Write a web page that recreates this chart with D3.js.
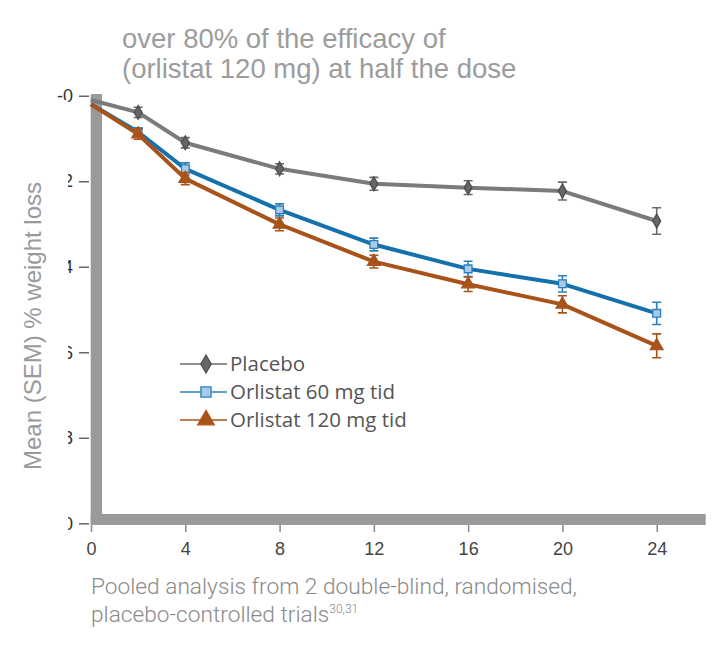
<!DOCTYPE html>
<html>
<head>
<meta charset="utf-8">
<script src="https://cdn.jsdelivr.net/npm/d3@7"></script>
<style>
  body { margin: 0; background: #fff; }
  svg { display: block; }
</style>
</head>
<body>
<div class="chart"></div>
<script>
// data (weeks vs mean % weight loss)
const weeks = [0, 2, 4, 8, 12, 16, 20, 24];
const placebo = [0.1, 0.39, 1.10, 1.71, 2.06, 2.15, 2.23, 2.93];
const placeboSem = [0, 0.12, 0.12, 0.12, 0.15, 0.16, 0.21, 0.31];
const orl60 = [0.2, 0.85, 1.71, 2.67, 3.48, 4.05, 4.40, 5.09];
const orl60Sem = [0, 0.10, 0.14, 0.14, 0.15, 0.18, 0.19, 0.26];
const orl120 = [0.2, 0.90, 1.94, 3.01, 3.88, 4.41, 4.88, 5.85];
const orl120Sem = [0, 0.12, 0.14, 0.15, 0.15, 0.17, 0.20, 0.28];

const xTicks = [0, 4, 8, 12, 16, 20, 24];
const yTicks = [0, 2, 4, 6, 8, 10];
const yTickLabels = ['-0', '2', '4', '6', '8', '10'];
const seriesNames = ['Placebo', 'Orlistat 60 mg tid', 'Orlistat 120 mg tid'];

const width = 715, height = 646;

const svg = d3.select('.chart').append('svg')
    .attr('width', width)
    .attr('height', height);

const x = d3.scaleLinear().domain([0, 24]).range([91, 656.7]);
const y = d3.scaleLinear().domain([0, 10]).range([95.7, 523.3]);

//title
const title = svg.append('text')
    .attr('font-family', 'Liberation Sans, Arial, sans-serif')
    .attr('font-size', 27.5)
    .attr('fill', '#9c9c9c');
title.append('tspan').attr('x', 122).attr('y', 48).text('over 80% of the efficacy of');
title.append('tspan').attr('x', 122).attr('y', 78).text('(orlistat 120 mg) at half the dose');

//thick grey frame
svg.append('rect').attr('x', 90.7).attr('y', 94).attr('width', 11.3).attr('height', 431).attr('fill', '#9a9a9a');
svg.append('rect').attr('x', 90.7).attr('y', 514).attr('width', 615).attr('height', 11).attr('fill', '#9a9a9a');

//x axis
const xAxis = d3.axisBottom(x)
    .tickValues(xTicks)
    .tickSize(7)
    .tickPadding(10)
    .tickSizeOuter(0);

const xAxisDraw = svg.append('g')
    .attr('transform', 'translate(0, 525)')
    .call(xAxis);
xAxisDraw.select('.domain').remove();
xAxisDraw.selectAll('line').attr('stroke', '#888').attr('stroke-width', 1.5);
xAxisDraw.selectAll('text')
    .attr('font-family', 'Liberation Sans, Arial, sans-serif')
    .attr('font-size', 18)
    .attr('fill', '#444');

//y axis, labels cut at the left edge like the original
svg.append('clipPath').attr('id', 'yclip')
    .call(c => {
        c.append('rect').attr('x', 0).attr('y', 0).attr('width', 200).attr('height', 100);
        c.append('rect').attr('x', 68).attr('y', 100).attr('width', 200).attr('height', 500);
    });

const yAxis = d3.axisLeft(y)
    .tickValues(yTicks)
    .tickFormat((d, i) => yTickLabels[i])
    .tickSize(10)
    .tickPadding(6)
    .tickSizeOuter(0);

const yClipGroup = svg.append('g').attr('clip-path', 'url(#yclip)');
const yAxisDraw = yClipGroup.append('g')
    .attr('transform', 'translate(89, 0)')
    .call(yAxis);
yAxisDraw.select('.domain').remove();
yAxisDraw.selectAll('line').attr('stroke', '#666').attr('stroke-width', 1.5);
yAxisDraw.selectAll('text')
    .attr('font-family', 'Liberation Sans, Arial, sans-serif')
    .attr('font-size', 18)
    .attr('fill', '#333');

svg.append('text')
    .attr('transform', 'translate(33, 326) rotate(-90)')
    .attr('text-anchor', 'middle')
    .attr('dy', '0.35em')
    .attr('font-family', 'Liberation Sans, Arial, sans-serif')
    .attr('font-size', 24)
    .attr('fill', '#9a9a9a')
    .text('Mean (SEM) % weight loss');

//series
const series = [
    {name: seriesNames[0], values: placebo, sem: placeboSem, line: '#7b7b7b', bar: '#6a6a6a',
     symbol: d3.symbolDiamond, size: 55, fill: '#666', stroke: '#4d4d4d'},
    {name: seriesNames[1], values: orl60, sem: orl60Sem, line: '#1471ab', bar: '#2a80bd',
     symbol: d3.symbolSquare, size: 60, fill: '#a9cbe8', stroke: '#2a80bd'},
    {name: seriesNames[2], values: orl120, sem: orl120Sem, line: '#a9531b', bar: '#a9531b',
     symbol: d3.symbolTriangle, size: 70, fill: '#a9531b', stroke: '#a9531b'}
];

series.forEach(s => {
    const pts = weeks.map((w, i) => ({w: w, v: s.values[i], e: s.sem[i]}));
    const line = d3.line().x(d => x(d.w)).y(d => y(d.v));

    svg.append('path')
        .datum(pts)
        .attr('d', line)
        .attr('fill', 'none')
        .attr('stroke', s.line)
        .attr('stroke-width', 4)
        .attr('stroke-linejoin', 'round');

    const g = svg.append('g');
    const marks = pts.filter(d => d.w > 0);

    //error bars
    g.selectAll('.err')
        .data(marks)
        .enter()
        .append('path')
        .attr('d', d => {
            const cx = x(d.w), y0 = y(d.v - d.e), y1 = y(d.v + d.e);
            return `M${cx - 4.5},${y0}H${cx + 4.5}M${cx},${y0}V${y1}M${cx - 4.5},${y1}H${cx + 4.5}`;
        })
        .attr('fill', 'none')
        .attr('stroke', s.bar)
        .attr('stroke-width', 1.6);

    g.selectAll('.pt')
        .data(marks)
        .enter()
        .append('path')
        .attr('transform', d => `translate(${x(d.w)}, ${y(d.v)})`)
        .attr('d', d3.symbol().type(s.symbol).size(s.size))
        .attr('fill', s.fill)
        .attr('stroke', s.stroke)
        .attr('stroke-width', 1.3);
});

//legend
const legend = svg.append('g').attr('transform', 'translate(180, 364)');
series.forEach((s, i) => {
    const row = legend.append('g').attr('transform', `translate(0, ${i * 28})`);
    row.append('line').attr('x1', 0).attr('x2', 47).attr('stroke', s.bar).attr('stroke-width', 1.5);
    row.append('path')
        .attr('transform', 'translate(26, 0)')
        .attr('d', d3.symbol().type(s.symbol).size(s.size * 1.7))
        .attr('fill', s.fill)
        .attr('stroke', s.stroke)
        .attr('stroke-width', 1.3);
    row.append('text')
        .attr('x', 50)
        .attr('dy', '0.35em')
        .attr('font-family', 'Open Sans, sans-serif')
        .attr('font-size', 20.5)
        .attr('fill', '#555')
        .text(s.name);
});

//footnote
const foot = svg.append('text')
    .attr('font-family', 'Roboto, sans-serif')
    .attr('font-weight', 300)
    .attr('font-size', 22.7)
    .attr('fill', '#8a8a8a');
foot.append('tspan').attr('x', 91).attr('y', 594).text('Pooled analysis from 2 double-blind, randomised,');
foot.append('tspan').attr('x', 91).attr('y', 622).text('placebo-controlled trials');
foot.append('tspan').attr('dy', -9).attr('font-size', 12).text('30,31');
</script>
</body>
</html>
